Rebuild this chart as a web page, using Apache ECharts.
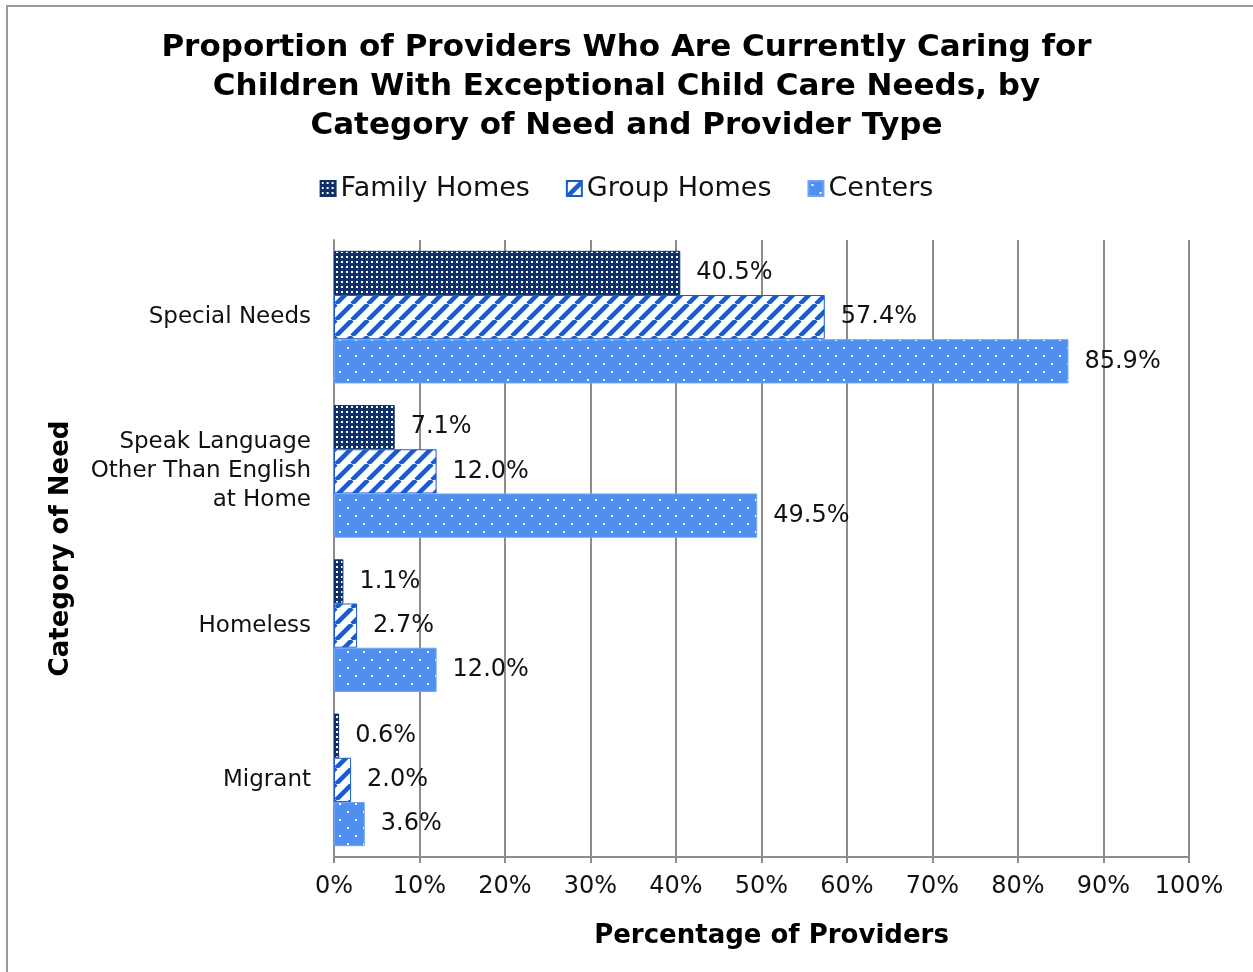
<!DOCTYPE html>
<html>
<head>
<meta charset="utf-8">
<script src="https://cdn.jsdelivr.net/npm/echarts@6/dist/echarts.min.js"></script>
<style>
    html, body { margin: 0; padding: 0; background: #fff; }
    #main { width: 1253px; height: 972px; }
</style>
</head>
<body>
<div id="main"></div>
<script>
// 类别与数值
var categories = ['Special Needs', 'Speak Language\nOther Than English\nat Home', 'Homeless', 'Migrant'];
var seriesNames = ['Family Homes', 'Group Homes', 'Centers'];
var familyHomes = [40.5, 7.1, 1.1, 0.6];
var groupHomes = [57.4, 12.0, 2.7, 2.0];
var centers = [85.9, 49.5, 12.0, 3.6];
var tickLabels = ['0%', '10%', '20%', '30%', '40%', '50%', '60%', '70%', '80%', '90%', '100%'];

(function () {
    var font = '"DejaVu Sans", Verdana, sans-serif';

    // 图案填充
    function dotsNavy() {
        var c = document.createElement('canvas');
        c.width = 5; c.height = 5;
        var ctx = c.getContext('2d');
        ctx.fillStyle = '#10306a';
        ctx.fillRect(0, 0, 5, 5);
        ctx.fillStyle = '#ffffff';
        ctx.fillRect(1, 1, 2, 2);
        return c;
    }
    function stripes() {
        var c = document.createElement('canvas');
        c.width = 16; c.height = 16;
        var ctx = c.getContext('2d');
        ctx.fillStyle = '#ffffff';
        ctx.fillRect(0, 0, 16, 16);
        ctx.strokeStyle = '#1a5ccc';
        ctx.lineWidth = 4.5;
        [-16, 0, 16].forEach(function (o) {
            ctx.beginPath();
            ctx.moveTo(o, 16);
            ctx.lineTo(o + 16, 0);
            ctx.stroke();
        });
        return c;
    }
    function sparseDots() {
        var c = document.createElement('canvas');
        c.width = 16; c.height = 16;
        var ctx = c.getContext('2d');
        ctx.fillStyle = '#4f8ff0';
        ctx.fillRect(0, 0, 16, 16);
        ctx.fillStyle = '#ffffff';
        ctx.fillRect(3, 3, 2, 2);
        ctx.fillRect(11, 11, 2, 2);
        return c;
    }

    var fills = [dotsNavy(), stripes(), sparseDots()];
    var borders = ['#10306a', '#1a5ccc', '#6fa3f2'];
    var datas = [familyHomes, groupHomes, centers];

    var myChart = echarts.init(document.getElementById('main'));

    var series = seriesNames.map(function (name, i) {
        return {
            name: name,
            type: 'bar',
            barGap: '0%',
            barCategoryGap: '14%',
            itemStyle: {
                color: { image: fills[i], repeat: 'repeat' },
                borderColor: borders[i],
                borderWidth: 1
            },
            label: {
                show: true,
                position: 'right',
                distance: 16,
                color: '#111',
                fontFamily: font,
                fontSize: 24,
                formatter: function (p) {
                    return p.value.toFixed(1) + '%';
                }
            },
            data: datas[i]
        };
    });

    var option = {
        backgroundColor: '#fff',
        animation: false,
        title: {
            text: 'Proportion of Providers Who Are Currently Caring for\nChildren With Exceptional Child Care Needs, by\nCategory of Need and Provider Type',
            left: 'center',
            top: 23,
            textStyle: {
                fontFamily: font,
                fontWeight: 'bold',
                fontSize: 31,
                lineHeight: 39,
                color: '#000'
            }
        },
        legend: {
            top: 170,
            left: 'center',
            icon: 'rect',
            itemWidth: 15,
            itemHeight: 15,
            itemGap: 36,
            textStyle: {
                fontFamily: font,
                fontSize: 27,
                color: '#111'
            },
            data: seriesNames
        },
        grid: {
            left: 334,
            right: 64,
            top: 240,
            bottom: 115,
            containLabel: false
        },
        xAxis: {
            type: 'value',
            min: 0,
            max: 100,
            interval: 10,
            name: 'Percentage of Providers',
            nameLocation: 'middle',
            nameGap: 66,
            nameTextStyle: {
                fontFamily: font,
                fontWeight: 'bold',
                fontSize: 26,
                color: '#000',
                padding: [0, 0, 0, 20]
            },
            axisLine: { show: true, lineStyle: { color: '#8c8c8c', width: 2 } },
            axisTick: { show: true, length: 6, lineStyle: { color: '#8c8c8c', width: 2 } },
            axisLabel: {
                fontFamily: font,
                fontSize: 24,
                color: '#111',
                margin: 18,
                formatter: function (v) {
                    return tickLabels[Math.round(v / 10)];
                }
            },
            splitLine: { show: true, lineStyle: { color: '#8c8c8c', width: 2 } }
        },
        yAxis: {
            type: 'category',
            inverse: true,
            data: categories,
            name: 'Category of Need',
            nameLocation: 'middle',
            nameGap: 260,
            nameRotate: 90,
            nameTextStyle: {
                fontFamily: font,
                fontWeight: 'bold',
                fontSize: 26,
                color: '#000'
            },
            axisLine: { show: true, lineStyle: { color: '#8c8c8c', width: 2 } },
            axisTick: { show: false },
            axisLabel: {
                fontFamily: font,
                fontSize: 23,
                lineHeight: 29,
                color: '#111',
                margin: 23,
                align: 'right'
            }
        },
        graphic: [{
            type: 'rect',
            shape: { x: 7, y: 6, width: 1400, height: 1100 },
            style: { fill: 'none', stroke: '#999', lineWidth: 2 },
            silent: true
        }],
        series: series
    };

    myChart.setOption(option);
    window.addEventListener('resize', function () {
        myChart.resize();
    });
})();
</script>
</body>
</html>
